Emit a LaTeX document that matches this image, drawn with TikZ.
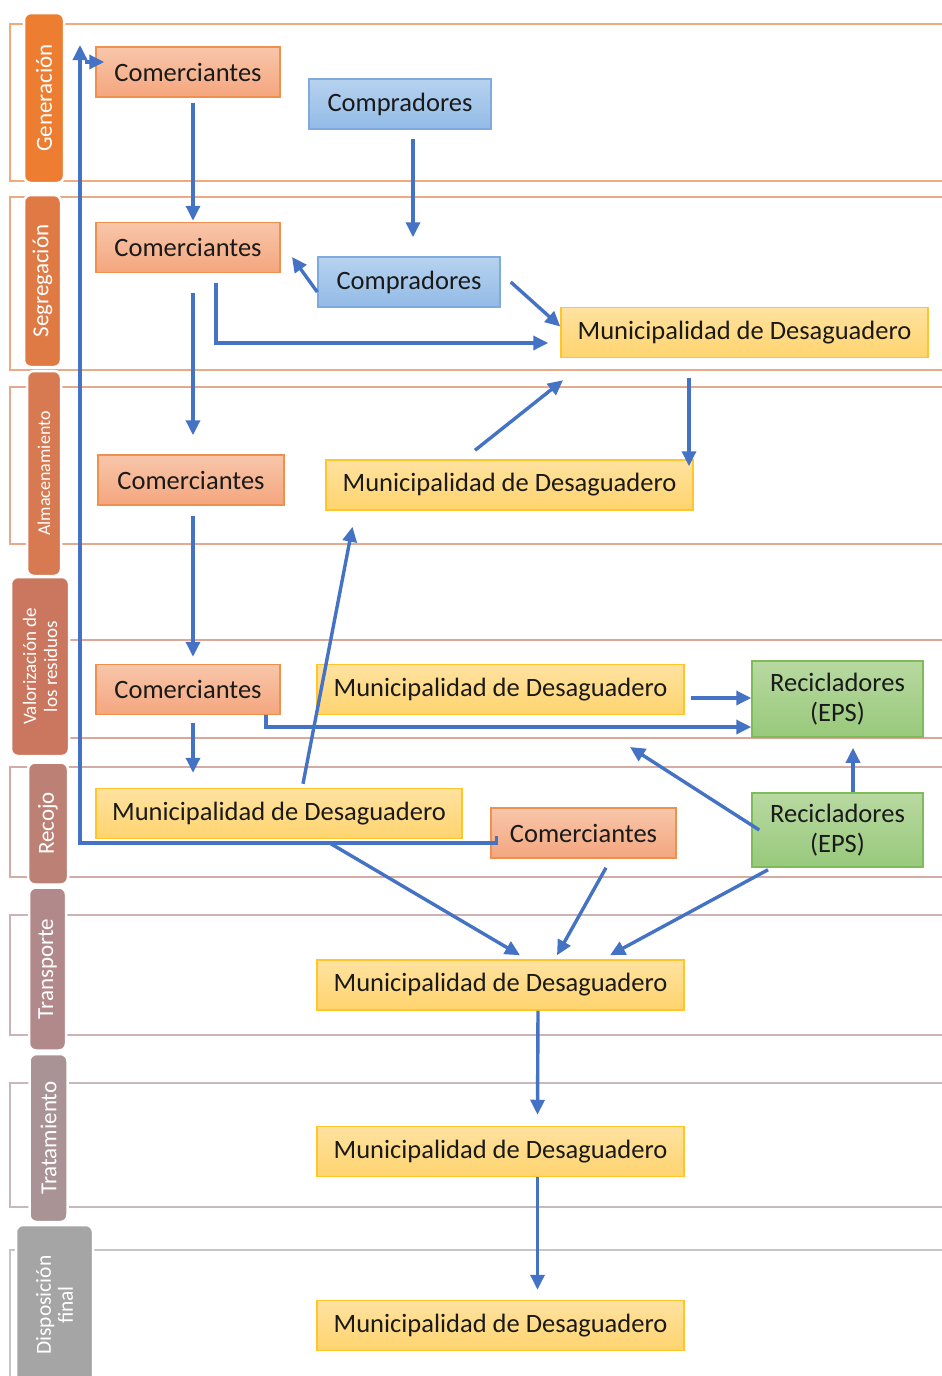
\documentclass[tikz,border=0pt]{standalone}
\usepackage{fontspec}
\setmainfont{Carlito}
\usetikzlibrary{arrows.meta,calc}
\definecolor{arrc}{HTML}{4472C4}
\definecolor{txt}{HTML}{1A1A1A}
\definecolor{comT}{HTML}{F8C6AA}
\definecolor{comBo}{HTML}{F4A67E}
\definecolor{comD}{HTML}{F0904F}
\definecolor{cmpT}{HTML}{B7D2EF}
\definecolor{cmpBo}{HTML}{92BBE6}
\definecolor{cmpD}{HTML}{7EAADE}
\definecolor{munT}{HTML}{FFE2A0}
\definecolor{munBo}{HTML}{FFD46E}
\definecolor{munD}{HTML}{FFC52A}
\definecolor{recT}{HTML}{B8D9A0}
\definecolor{recBo}{HTML}{98C97B}
\definecolor{recD}{HTML}{7DBB5B}
\definecolor{pGen}{HTML}{ED7D31}
\definecolor{pSeg}{HTML}{E07A45}
\definecolor{pAlm}{HTML}{D77A52}
\definecolor{pVal}{HTML}{CB775F}
\definecolor{pRec}{HTML}{BC8074}
\definecolor{pTra}{HTML}{B2898A}
\definecolor{pTrt}{HTML}{A99394}
\definecolor{pDis}{HTML}{A5A5A5}
\begin{document}
\begin{tikzpicture}[x=1pt,y=-1pt,
  box/.style={draw, line width=1.5pt, inner sep=0pt, text=txt, font=\fontsize{26.5}{30}\selectfont, align=center},
  com/.style={box, draw=comD, top color=comT, bottom color=comBo, minimum width=184pt, minimum height=50pt},
  cmp/.style={box, draw=cmpD, top color=cmpT, bottom color=cmpBo, minimum width=182pt, minimum height=50pt},
  mun/.style={box, draw=munD, top color=munT, bottom color=munBo, minimum width=367pt, minimum height=50pt},
  rcy/.style={box, draw=recD, top color=recT, bottom color=recBo, minimum width=171pt},
  pill/.style={draw=white, line width=2.5pt, rounded corners=7pt, text=white, inner sep=0pt, rotate=90, align=center, font=\fontsize{23}{24}\selectfont},
  band/.style={line width=2pt},
  arr/.style={draw=arrc, line width=3.4pt, -{Triangle[length=15pt,width=14pt]}}
]
\useasboundingbox (0,0) rectangle (942,1376);
\fill[white] (0,0) rectangle (942,1376);
\begin{scope}
\clip (0,0) rectangle (942,1376);
% band lines
\draw[band, draw=pGen!65!white] (942,24) -- (10,24) -- (10,181) -- (942,181);
\draw[band, draw=pSeg!65!white] (942,197) -- (10,197) -- (10,370) -- (942,370);
\draw[band, draw=pAlm!65!white] (942,387) -- (10,387) -- (10,544) -- (942,544);
\draw[band, draw=pVal!65!white] (70,640) -- (942,640);
\draw[band, draw=pVal!65!white] (70,738) -- (942,738);
\draw[band, draw=pRec!65!white] (942,767) -- (10,767) -- (10,877) -- (942,877);
\draw[band, draw=pTra!65!white] (942,915) -- (10,915) -- (10,1035) -- (942,1035);
\draw[band, draw=pTrt!65!white] (942,1083) -- (10,1083) -- (10,1207) -- (942,1207);
\draw[band, draw=pDis!65!white] (942,1250) -- (10,1250) -- (10,1376);
% stage labels
\node[pill, fill=pGen, minimum width=170pt, minimum height=40pt] (sGen) at (44,98) {Generación};
\node[pill, fill=pSeg, minimum width=172pt, minimum height=37pt] (sSeg) at (42.5,281) {Segregación};
\node[pill, fill=pAlm, minimum width=205pt, minimum height=34pt, font=\fontsize{18}{19}\selectfont] (sAlm) at (44,473.5) {Almacenamiento};
\node[pill, fill=pVal, minimum width=179pt, minimum height=58pt, font=\fontsize{19}{21}\selectfont] (sVal) at (40,666.5) {Valorización de\\los residuos};
\node[pill, fill=pRec, minimum width=122pt, minimum height=40pt] (sRec) at (48,823.5) {Recojo};
\node[pill, fill=pTra, minimum width=163pt, minimum height=37pt] (sTra) at (47.5,969) {Transporte};
\node[pill, fill=pTrt, minimum width=168pt, minimum height=38pt] (sTrt) at (48.5,1138) {Tratamiento};
\node[pill, fill=pDis, minimum width=160pt, minimum height=77pt, font=\fontsize{21.5}{22}\selectfont] (sDis) at (54.5,1305) {Disposición\\final};
\end{scope}
% boxes
\node[com] (C1) at (188,72) {Comerciantes};
\node[cmp] (P1) at (400,104) {Compradores};
\node[com] (C2) at (188,247.5) {Comerciantes};
\node[cmp] (P2) at (409,282) {Compradores};
\node[mun] (M1) at (744.5,332.5) {Municipalidad de Desaguadero};
\node[com, minimum width=186pt] (C3) at (191,480) {Comerciantes};
\node[mun] (M2) at (509.5,485) {Municipalidad de Desaguadero};
\node[com] (C4) at (188,689.5) {Comerciantes};
\node[mun] (M3) at (500.5,689.5) {Municipalidad de Desaguadero};
\node[rcy, minimum height=76pt] (R1) at (837.5,699) {Recicladores\\(EPS)};
\node[mun, minimum width=366pt] (M4) at (279,813.5) {Municipalidad de Desaguadero};
\node[com, minimum width=185pt] (C5) at (583.5,833) {Comerciantes};
\node[rcy, minimum height=74pt] (R2) at (837.5,830) {Recicladores\\(EPS)};
\node[mun] (M5) at (500.5,985) {Municipalidad de Desaguadero};
\node[mun] (M6) at (500.5,1151.5) {Municipalidad de Desaguadero};
\node[mun] (M7) at (500.5,1325.5) {Municipalidad de Desaguadero};
% free ends
\coordinate (Lc) at (80,843);
\coordinate (Lt) at (80,45);
\coordinate (Ls) at (85,62);
\coordinate (P2tip) at (292,257);
\coordinate (R2tip) at (630,747);
% connectors
\draw[arr] ([xshift=5pt,yshift=-5pt]C1.south) -- ([xshift=5pt,yshift=1pt]C2.north);
\draw[arr] ([xshift=13pt,yshift=-9pt]P1.south) -- ([xshift=4pt,yshift=19pt]P2.north);
\draw[arr] ([yshift=-10pt]P2.west) -- (P2tip);
\draw[arr] ([xshift=10pt]P2.east) -- ([yshift=6pt]M1.west);
\draw[arr] ([xshift=28pt,yshift=-10pt]C2.south) |- ([xshift=-12pt,yshift=-10.5pt]M1.west);
\draw[arr] ([xshift=5pt,yshift=-20pt]C2.south) -- ([xshift=2pt,yshift=19pt]C3.north);
\draw[arr] ([xshift=-55.5pt,yshift=-20pt]M1.south) -- ([xshift=179.5pt,yshift=-7pt]M2.north);
\draw[arr] ([xshift=-34.5pt,yshift=9pt]M2.north) -- ([xshift=-181.5pt,yshift=-22pt]M1.south);
\draw[arr] ([xshift=2pt,yshift=-10pt]C3.south) -- ([xshift=5pt,yshift=7pt]C4.north);
\draw[arr] ([xshift=5pt,yshift=-8pt]C4.south) -- ([xshift=-86pt,yshift=15pt]M4.north);
\draw[arr] ([xshift=78pt]C4.south) |- ([yshift=-28pt]R1.west);
\draw[arr] ([xshift=6pt,yshift=-8.5pt]M3.east) -- ([yshift=1pt]R1.west);
\draw[arr] ([xshift=24pt,yshift=4pt]M4.north) -- ([xshift=-157pt,yshift=-16pt]M2.south);
\draw[arr] ([xshift=15.5pt]R2.north) -- ([xshift=15.5pt,yshift=-10pt]R1.south);
\draw[arr] ([xshift=8pt]R2.west) -- (R2tip);
\draw[arr] ([xshift=51pt,yshift=-4pt]M4.south) -- ([xshift=19.5pt,yshift=4pt]M5.north);
\draw[arr] ([xshift=22.5pt,yshift=-9pt]C5.south) -- ([xshift=56.5pt,yshift=4pt]M5.north);
\draw[arr] ([xshift=-69.5pt,yshift=-2pt]R2.south) -- ([xshift=109.5pt,yshift=4pt]M5.north);
\draw[arr] ([xshift=37.5pt]M5.south) -- ([xshift=37pt,yshift=11pt]M6.north);
\draw[arr] ([xshift=37pt]M6.south) -- ([xshift=37pt,yshift=10pt]M7.north);
\draw[arr] ([xshift=6pt,yshift=-3pt]C5.west) |- (Lc) -- (Lt);
\draw[arr] (Ls) -- ([xshift=9pt,yshift=10pt]C1.west);
\end{tikzpicture}
\end{document}
